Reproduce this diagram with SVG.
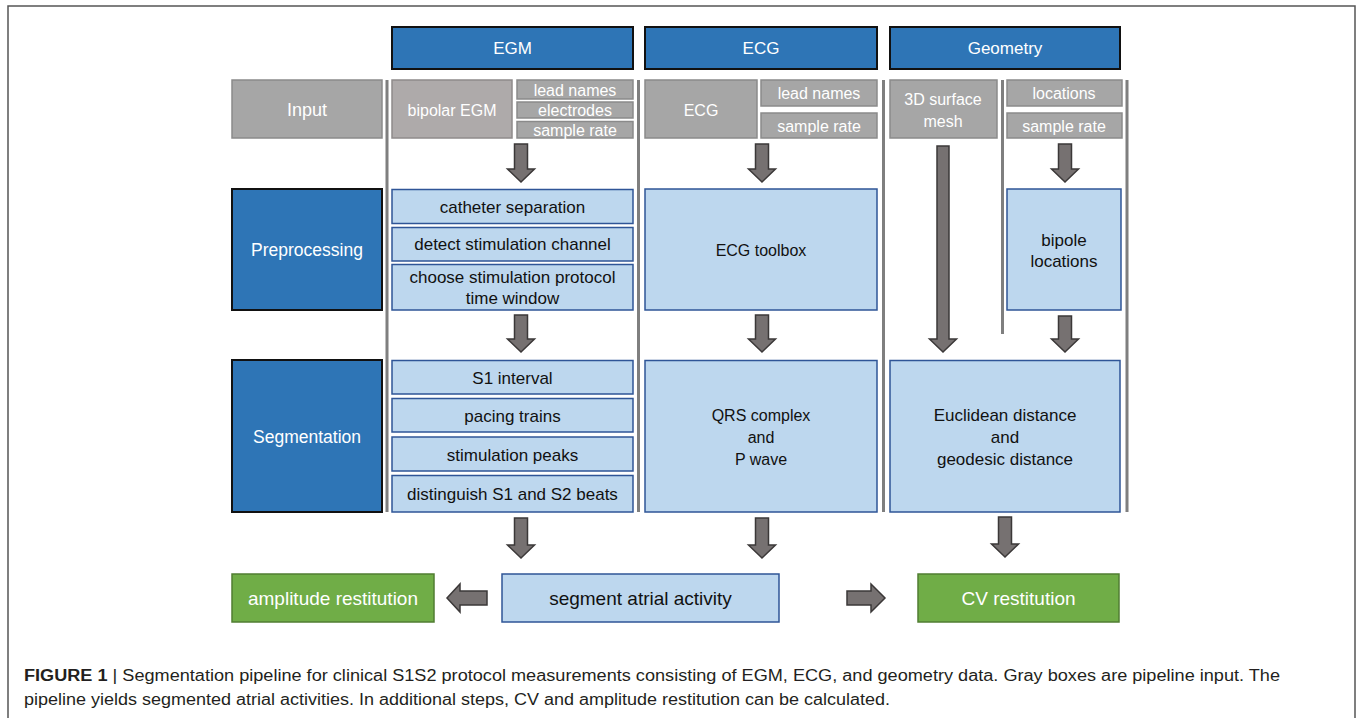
<svg xmlns="http://www.w3.org/2000/svg" width="1360" height="718" viewBox="0 0 1360 718">
<style>
text{font-family:"Liberation Sans",Arial,sans-serif;text-anchor:middle;dominant-baseline:central}
.hdr{fill:#2E75B6;stroke:#111;stroke-width:2}
.hdrt{fill:#fff;font-size:17px}
.gray{fill:#A6A6A6;stroke:#8A8A8A;stroke-width:1.5}
.grayw{fill:#AEAAAA;stroke:#8F8B8B;stroke-width:1.5}
.grt{fill:#fff;font-size:16px}
.lb{fill:#BDD7EE;stroke:#2F5597;stroke-width:1.5}
.lbt{fill:#111;font-size:17px}
.lbm{fill:#111;font-size:16px}
.grn{fill:#70AD47;stroke:#507E32;stroke-width:1.5}
.bot{font-size:19px}
.sep{stroke:#7F7F7F;stroke-width:3;fill:none}
.arr{fill:#767171;stroke:#3B3838;stroke-width:1.5}
.cap{font-size:16px;fill:#231F20;text-anchor:start;dominant-baseline:auto}
</style>
<rect x="8" y="6" width="1347" height="730" fill="#fff" stroke="#555" stroke-width="1.5"/>

<g id="separators">
<line class="sep" x1="387" y1="80" x2="387" y2="512"/>
<line class="sep" x1="638.5" y1="80" x2="638.5" y2="512"/>
<line class="sep" x1="883.5" y1="80" x2="883.5" y2="512"/>
<line class="sep" x1="1002.5" y1="80" x2="1002.5" y2="334"/>
<line class="sep" x1="1127" y1="80" x2="1127" y2="512"/>
</g>

<g id="hdr-egm"><rect class="hdr" x="392" y="27" width="241" height="42"/><text class="hdrt" x="512.5" y="48">EGM</text></g>
<g id="hdr-ecg"><rect class="hdr" x="645" y="27" width="232" height="42"/><text class="hdrt" x="761" y="48">ECG</text></g>
<g id="hdr-geo"><rect class="hdr" x="890" y="27" width="230" height="42"/><text class="hdrt" x="1005" y="48">Geometry</text></g>

<g id="input"><rect class="gray" x="232" y="80" width="150" height="58"/><text class="grt" x="307" y="110" style="font-size:18px">Input</text></g>
<g id="bipolar-egm"><rect class="grayw" x="392" y="80" width="120" height="58"/><text class="grt" x="452" y="110">bipolar EGM</text></g>
<g id="egm-lead-names"><rect class="gray" x="517" y="80" width="116" height="19"/><text class="grt" x="575" y="90">lead names</text></g>
<g id="egm-electrodes"><rect class="gray" x="517" y="102" width="116" height="16"/><text class="grt" x="575" y="110">electrodes</text></g>
<g id="egm-sample-rate"><rect class="gray" x="517" y="121.5" width="116" height="16.5"/><text class="grt" x="575" y="130">sample rate</text></g>

<g id="ecg-input"><rect class="gray" x="645" y="80" width="112" height="58"/><text class="grt" x="701" y="110">ECG</text></g>
<g id="ecg-lead-names"><rect class="gray" x="761" y="80" width="116" height="26"/><text class="grt" x="819" y="93">lead names</text></g>
<g id="ecg-sample-rate"><rect class="gray" x="761" y="113" width="116" height="25"/><text class="grt" x="819" y="126">sample rate</text></g>

<g id="mesh"><rect class="gray" x="890" y="80" width="107" height="58"/><text class="grt" x="943" y="99">3D surface</text><text class="grt" x="943" y="121">mesh</text></g>
<g id="locations"><rect class="gray" x="1007" y="80" width="115" height="26"/><text class="grt" x="1064" y="93">locations</text></g>
<g id="geo-sample-rate"><rect class="gray" x="1007" y="113" width="115" height="25"/><text class="grt" x="1064" y="126">sample rate</text></g>

<g id="preprocessing"><rect class="hdr" x="232" y="189" width="150" height="121"/><text class="hdrt" x="307" y="250" style="font-size:17.5px">Preprocessing</text></g>
<g id="catheter-separation"><rect class="lb" x="392" y="189.5" width="241" height="34"/><text class="lbt" x="512.5" y="207">catheter separation</text></g>
<g id="detect-stim"><rect class="lb" x="392" y="227.5" width="241" height="33.5"/><text class="lbt" x="512.5" y="244">detect stimulation channel</text></g>
<g id="choose-stim"><rect class="lb" x="392" y="264.5" width="241" height="45.5"/><text class="lbt" x="512.5" y="277">choose stimulation protocol</text><text class="lbt" x="512.5" y="298">time window</text></g>
<g id="ecg-toolbox"><rect class="lb" x="645" y="189" width="232" height="121"/><text class="lbm" x="761" y="250">ECG toolbox</text></g>
<g id="bipole-locations"><rect class="lb" x="1007" y="189" width="114" height="121"/><text class="lbt" x="1064" y="240">bipole</text><text class="lbt" x="1064" y="261">locations</text></g>

<g id="segmentation"><rect class="hdr" x="232" y="360" width="150" height="152"/><text class="hdrt" x="307" y="437" style="font-size:17.5px">Segmentation</text></g>
<g id="s1-interval"><rect class="lb" x="392" y="360.5" width="241" height="33.5"/><text class="lbt" x="512.5" y="378">S1 interval</text></g>
<g id="pacing-trains"><rect class="lb" x="392" y="398.5" width="241" height="33.5"/><text class="lbt" x="512.5" y="416">pacing trains</text></g>
<g id="stim-peaks"><rect class="lb" x="392" y="437" width="241" height="34"/><text class="lbt" x="512.5" y="455">stimulation peaks</text></g>
<g id="distinguish"><rect class="lb" x="392" y="475.5" width="241" height="36.5"/><text class="lbt" x="512.5" y="494">distinguish S1 and S2 beats</text></g>
<g id="qrs"><rect class="lb" x="645" y="360.5" width="232" height="151.5"/><text class="lbm" x="761" y="415">QRS complex</text><text class="lbm" x="761" y="437">and</text><text class="lbm" x="761" y="459">P wave</text></g>
<g id="distance"><rect class="lb" x="890" y="360.5" width="230" height="151.5"/><text class="lbm" x="1005" y="415" style="font-size:17px">Euclidean distance</text><text class="lbm" x="1005" y="437" style="font-size:17px">and</text><text class="lbm" x="1005" y="459" style="font-size:17px">geodesic distance</text></g>

<g id="amplitude-restitution"><rect class="grn" x="232" y="574" width="202" height="48"/><text class="grt bot" x="333" y="598">amplitude restitution</text></g>
<g id="segment-atrial"><rect class="lb" x="502" y="574" width="277" height="48"/><text class="lbt bot" x="640.5" y="598">segment atrial activity</text></g>
<g id="cv-restitution"><rect class="grn" x="918" y="574" width="201" height="48"/><text class="grt bot" x="1018.5" y="598">CV restitution</text></g>

<g id="connectors">
<path class="arr" d="M514.5,144 H527.5 V169 H534.5 L521,182 L507.5,169 H514.5 Z"/>
<path class="arr" d="M755.5,144 H768.5 V169 H775.5 L762,182 L748.5,169 H755.5 Z"/>
<path class="arr" d="M1058.5,144 H1071.5 V169 H1078.5 L1065,182 L1051.5,169 H1058.5 Z"/>
<path class="arr" d="M937,146 H949 V339 H956.5 L943,352 L929.5,339 H937 Z"/>
<path class="arr" d="M514.5,315 H527.5 V339 H534.5 L521,352 L507.5,339 H514.5 Z"/>
<path class="arr" d="M755.5,315 H768.5 V339 H775.5 L762,352 L748.5,339 H755.5 Z"/>
<path class="arr" d="M1058.5,316 H1071.5 V339 H1078.5 L1065,352 L1051.5,339 H1058.5 Z"/>
<path class="arr" d="M514.5,518 H527.5 V545 H534.5 L521,558 L507.5,545 H514.5 Z"/>
<path class="arr" d="M755.5,518 H768.5 V545 H775.5 L762,558 L748.5,545 H755.5 Z"/>
<path class="arr" d="M998.5,517 H1011.5 V544 H1018.5 L1005,557 L991.5,544 H998.5 Z"/>
<path class="arr" d="M487,591 V605 H460 V612 L447,598 L460,584 V591 Z"/>
<path class="arr" d="M847,591 H871 V584 L885,598 L871,612 V605 H847 Z"/>
</g>

<g id="caption">
<text class="cap" x="24" y="681" textLength="1256" lengthAdjust="spacingAndGlyphs"><tspan font-weight="bold">FIGURE 1</tspan> | Segmentation pipeline for clinical S1S2 protocol measurements consisting of EGM, ECG, and geometry data. Gray boxes are pipeline input. The</text>
<text class="cap" x="24" y="705" textLength="866" lengthAdjust="spacingAndGlyphs">pipeline yields segmented atrial activities. In additional steps, CV and amplitude restitution can be calculated.</text>
</g>
</svg>
